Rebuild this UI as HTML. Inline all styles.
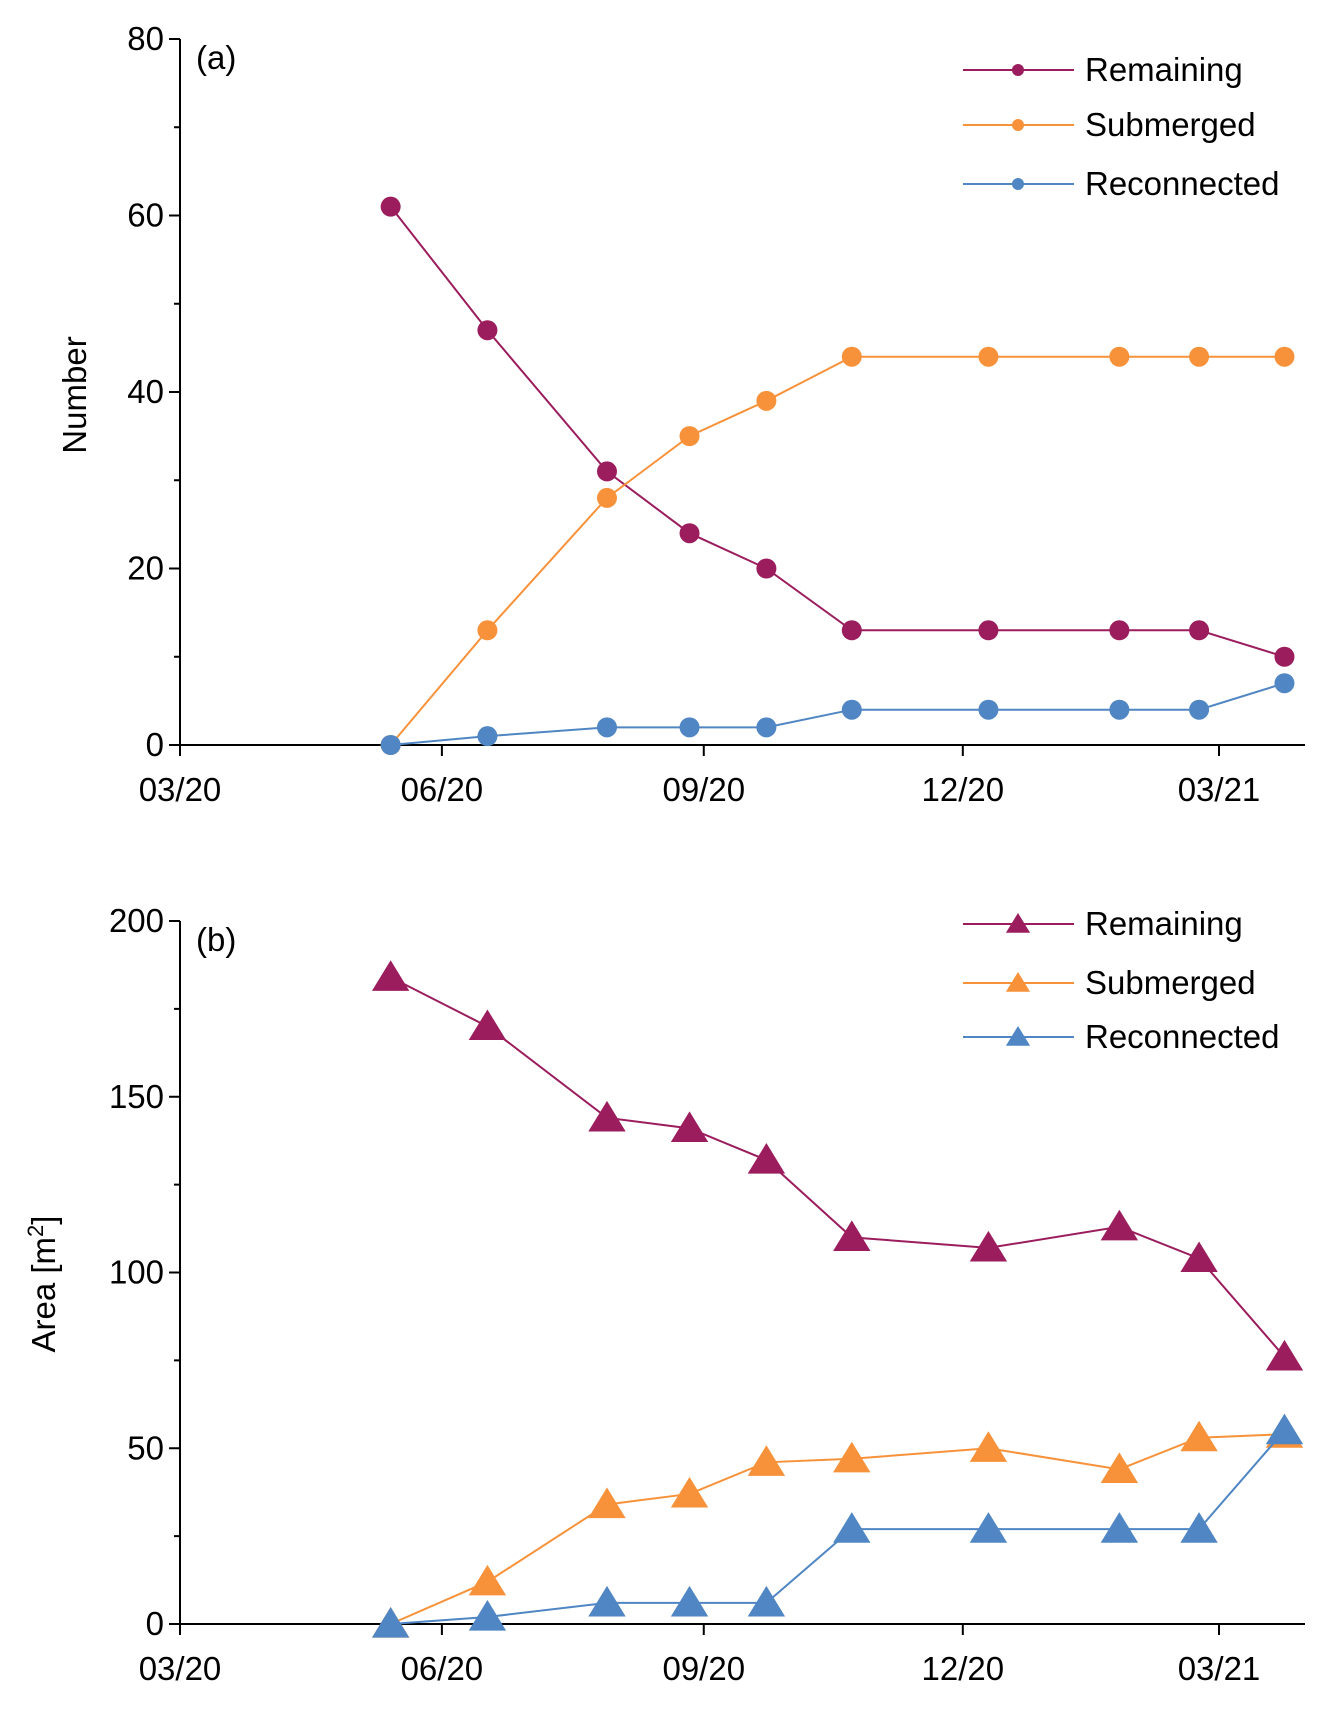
<!DOCTYPE html>
<html><head><meta charset="utf-8"><style>
html,body{margin:0;padding:0;background:#fff}
svg{display:block;font-family:"Liberation Sans",sans-serif}
</style></head><body>
<svg id="chart" width="1330" height="1715" viewBox="0 0 1330 1715"></svg>
<script>
const dates=["2020-05-14","2020-06-17","2020-07-29","2020-08-27","2020-09-23","2020-10-23","2020-12-10","2021-01-25","2021-02-22","2021-03-24"];
const numRemaining=[61,47,31,24,20,13,13,13,13,10];
const numSubmerged=[0,13,28,35,39,44,44,44,44,44];
const numReconnected=[0,1,2,2,2,4,4,4,4,7];
const areaRemaining=[184,170,144,141,132,110,107,113,104,76];
const areaSubmerged=[0,12,34,37,46,47,50,44,53,54];
const areaReconnected=[0,2,6,6,6,27,27,27,27,55];
const xTickLabels=["03/20","06/20","09/20","12/20","03/21"];
const xTickDates=["2020-03-01","2020-06-01","2020-09-01","2020-12-01","2021-03-01"];
const seriesNames=["Remaining","Submerged","Reconnected"];
const colors=["#9b1d5d","#f7923a","#4f86c3"];

const NS="http://www.w3.org/2000/svg";
const svg=document.getElementById('chart');
function mk(tag,attrs,parent){const e=document.createElementNS(NS,tag);for(const k in attrs)e.setAttribute(k,attrs[k]);(parent||svg).appendChild(e);return e;}
const t0=Date.parse("2020-03-01");
const X0=180,XEND=1305,PXD=(1219-180)/365;
function xs(d){return X0+(Date.parse(d)-t0)/86400000*PXD;}

function panel(p){
  const g=mk('g',{});
  
  
  const ys=v=>p.y0-(v/p.max)*(p.y0-p.ytop);
  let a=mk('line',{x1:X0,y1:p.ytop,x2:X0,y2:p.y0,stroke:'#000','stroke-width':2},g);
  
  a=mk('line',{x1:X0,y1:p.y0,x2:XEND,y2:p.y0,stroke:'#000','stroke-width':2},g);
  
  for(let i=0;i<=p.ticks.length*2-2;i++){
    const v=i*p.step/2,y=ys(v);
    mk('line',{x1:X0-(i%2?6:11),y1:y,x2:X0,y2:y,stroke:'#000','stroke-width':2},g);
    if(i%2===0){const t=mk('text',{x:X0-16,y:y+11,'text-anchor':'end','font-size':33},g);t.textContent=p.ticks[i/2];
      }
  }
  xTickDates.forEach((d,i)=>{const x=xs(d);
    mk('line',{x1:x,y1:p.y0,x2:x,y2:p.y0+11,stroke:'#000','stroke-width':2},g);
    const t=mk('text',{x:x,y:p.y0+56,'text-anchor':'middle','font-size':33},g);t.textContent=xTickLabels[i];
    });
  const yl=mk('text',{transform:`translate(${p.ylx},${p.yly}) rotate(-90)`,'text-anchor':'middle','font-size':33},g);
  yl.innerHTML=p.ylabel;
  
  const pl=mk('text',{x:196,y:p.ytop+30,'font-size':33},g);pl.textContent=p.label;
  
  const marker=(x,y,c,big,parent)=>{
    if(p.tri){const s=big?17:11;return mk('polygon',{points:`${x},${y-s} ${x-s*1.1},${y+s*0.8} ${x+s*1.1},${y+s*0.8}`,fill:c},parent);}
    return mk('circle',{cx:x,cy:y,r:big?10:6,fill:c},parent);
  };
  p.series.forEach((vals,si)=>{
    const sg=mk('g',{},g);
    
    
    const pts=vals.map((v,i)=>xs(dates[i])+','+ys(v)).join(' ');
    const l=mk('polyline',{points:pts,fill:'none',stroke:colors[si],'stroke-width':2},sg);
    
    vals.forEach((v,i)=>{const m=marker(xs(dates[i]),ys(v),colors[si],true,sg);
      });
    const lg=mk('g',{},g);
    
    const ly=p.legY[si];
    mk('line',{x1:963,y1:ly,x2:1074,y2:ly,stroke:colors[si],'stroke-width':2},lg);
    marker(1018,ly,colors[si],false,lg);
    const lt=mk('text',{x:1085,y:ly+11,'font-size':33},lg);lt.textContent=seriesNames[si];
  });
}
panel({name:'panel-a-number',ytop:39,y0:745,max:80,step:20,ticks:[0,20,40,60,80],ylabel:'Number',ylx:86,yly:395,label:'(a)',tri:false,
  series:[numRemaining,numSubmerged,numReconnected],legY:[70,125,184]});
panel({name:'panel-b-area',ytop:921,y0:1624,max:200,step:50,ticks:[0,50,100,150,200],ylabel:'Area [m<tspan dy="-12" font-size="22">2</tspan><tspan dy="12">]</tspan>',ylx:55,yly:1284,label:'(b)',tri:true,
  series:[areaRemaining,areaSubmerged,areaReconnected],legY:[924,983,1037]});
</script>
</body></html>
